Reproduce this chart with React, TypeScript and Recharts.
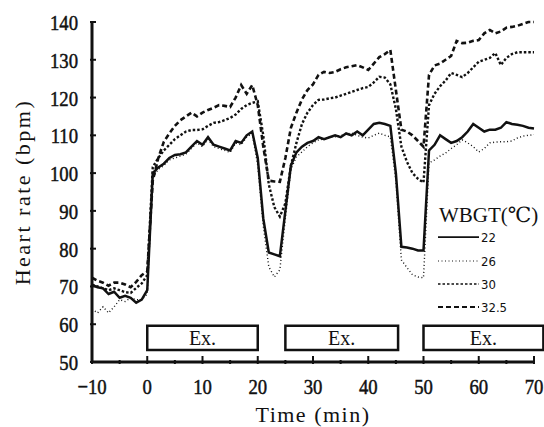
import { LineChart, Line, XAxis, YAxis, ReferenceArea } from 'recharts';

// minutes from start of pre-exercise rest
const TIME = [
  -10, -9, -8, -7, -6, -5, -4, -3, -2, -1, 0,
  1, 2, 3, 4, 5, 6, 7, 8, 9, 10,
  11, 12, 13, 14, 15, 16, 17, 18, 19, 20,
  21, 22, 23, 24, 25, 26, 27, 28, 29, 30,
  31, 32, 33, 34, 35, 36, 37, 38, 39, 40,
  41, 42, 43, 44, 45, 46, 47, 48, 49, 50,
  51, 52, 53, 54, 55, 56, 57, 58, 59, 60,
  61, 62, 63, 64, 65, 66, 67, 68, 69, 70,
];

const HR_22 = [
  70.4, 69.8, 69.5, 68, 68.6, 67, 67.5, 67, 65.7, 66.5, 69,
  100, 101.5, 102.5, 104, 104.8, 105, 105.5, 107, 108.5, 107.5,
  109.5, 107.5, 107, 106.5, 106, 108.5, 108, 110, 111, 104,
  88, 79, 78.5, 78, 90, 102, 105.5, 107, 108, 108.5,
  109.5, 109, 109.5, 110, 109.5, 110.5, 110, 111, 110, 111.5,
  113, 113.3, 113, 112.5, 100, 80.5, 80.3, 80, 79.5, 79.5,
  106, 107.5, 110, 109, 108, 108.5, 109.5, 111, 113, 112,
  111, 111.5, 111.5, 112, 113.5, 113, 112.8, 112.5, 112, 111.8,
];

const HR_26 = [
  64, 63, 64.6, 63, 64.6, 66.5, 66, 67, 66.5, 66.5, 68,
  99, 101, 102, 103.5, 104, 104.5, 105, 106.5, 108, 107,
  109, 107, 106.5, 106, 105.5, 108, 107.5, 109.5, 110.5, 102,
  86, 75.2, 72.5, 74.4, 88, 101, 104.3, 105.6, 107, 108,
  108.8, 109, 109.5, 109.6, 110, 110.3, 110.6, 110, 109.5, 109.3,
  110, 110.6, 110, 109.6, 98, 77, 75, 73.1, 72.5, 72.3,
  102.7, 103.5, 104.5, 105.3, 106.5, 107.5, 108.8, 108, 107, 105.6,
  106.5, 108, 108.2, 108.3, 108.3, 108.5, 109.3, 109.8, 110, 110.2,
];

const HR_30 = [
  70.5, 70, 69.5, 69, 69.5, 69, 68.5, 68.3, 69.6, 70.8, 73,
  101.6, 104, 106, 107.5, 109, 110, 111, 111.4, 111.4, 111.6,
  112.5, 113.3, 113.5, 114, 114.6, 115.5, 117, 118, 118.6, 119,
  110, 97, 91, 88.5, 92, 102, 108, 113, 116, 118,
  119.4, 119.5, 119.8, 120, 120.5, 121, 121.5, 122, 122.5, 122.8,
  124, 125.5, 125.3, 123.5, 117, 107, 103, 100, 98.5, 97.5,
  118, 121, 123, 124.5, 126.5, 126, 125.4, 126.5, 128, 129.5,
  130, 130.5, 131.8, 128.6, 130.5, 131.5, 132, 132, 132, 132,
];

const HR_325 = [
  72.3, 71.5, 71, 70.2, 71, 71, 70.5, 69.8, 71.2, 73, 74,
  98, 104, 108.3, 110.5, 112.5, 114, 115, 116, 115, 116,
  116.7, 117.3, 118, 117.8, 117.5, 120, 123.3, 121, 123.3, 118,
  107, 98, 97.8, 97.7, 104, 112, 116, 119.5, 122, 123.5,
  126, 126.8, 126.5, 126.8, 127.5, 128, 128.3, 128.6, 128, 127.3,
  129, 130.7, 131.5, 132.6, 122, 111.5, 111, 110, 108.5, 107,
  126, 128.5, 129, 130, 131, 135, 134.4, 134.5, 135, 135.2,
  137, 137.9, 137, 137.5, 138.5, 138.7, 139, 139.5, 140, 140,
];

const X_TICKS = [-10, -5, 0, 5, 10, 15, 20, 25, 30, 35, 40, 45, 50, 55, 60, 65, 70];
const Y_TICKS = [50, 60, 70, 80, 90, 100, 110, 120, 130, 140];

// exercise bouts [start, end] in min
const EX_START = [0, 25, 50];
const EX_END = [20, 45.4, 71.7];

const SERIES = [
  { key: 'w22', label: '22', dash: undefined, width: 2.5 },
  { key: 'w26', label: '26', dash: '1 2.5', width: 1.4 },
  { key: 'w30', label: '30', dash: '2.5 2', width: 2.4 },
  { key: 'w325', label: '32.5', dash: '5 3', width: 2.6 },
];

const data = TIME.map((t, i) => ({
  t,
  w22: HR_22[i],
  w26: HR_26[i],
  w30: HR_30[i],
  w325: HR_325[i],
}));

const SERIF = '"Liberation Serif", "DejaVu Serif", serif';
const INK = '#111';

function XTick({ x, y, payload }: any) {
  const v = payload.value as number;
  const major = v % 10 === 0;
  return (
    <g>
      <line x1={x} x2={x} y1={y} y2={y - (major ? 8 : 4)} stroke={INK} strokeWidth={2} />
      {major && (
        <text
          transform={`translate(${x},${y + 30}) scale(0.85,1)`}
          textAnchor="middle"
          fontFamily={SERIF}
          fontSize={22}
          fill={INK}
          stroke={INK}
          strokeWidth={0.5}
        >
          {v < 0 ? `\u2212${-v}` : v}
        </text>
      )}
    </g>
  );
}

function YTick({ x, y, payload }: any) {
  return (
    <g>
      <line x1={x} x2={x + 6} y1={y} y2={y} stroke={INK} strokeWidth={2} />
      <text
        transform={`translate(${x - 12},${y + 8}) scale(0.85,1)`}
        textAnchor="end"
        fontFamily={SERIF}
        fontSize={22}
        fill={INK}
        stroke={INK}
        strokeWidth={0.5}
      >
        {payload.value}
      </text>
    </g>
  );
}

function LegendBox() {
  return (
    <svg width={106} height={115} style={{ position: 'absolute', left: 436, top: 200 }}>
      <text x={3} y={22} fontFamily={SERIF} fontSize={21} fill={INK}>
        WBGT(℃)
      </text>
      {SERIES.map((s, i) => {
        const yy = [37, 61, 84, 107][i];
        return (
          <g key={s.key}>
            <line x1={2} x2={43} y1={yy} y2={yy} stroke={INK} strokeWidth={s.width * 0.7} strokeDasharray={s.dash} />
            <text x={45} y={yy + 5} fontFamily='"DejaVu Sans Condensed", "DejaVu Sans", sans-serif' fontSize={13} fill={INK}>
              {s.label}
            </text>
          </g>
        );
      })}
    </svg>
  );
}

export default function App() {
  return (
    <div style={{ position: 'absolute', left: 0, top: 0, width: 544, height: 427, background: '#fff' }}>
      <LineChart width={544} height={427} data={data} margin={{ top: 22, right: 10, bottom: 0, left: 0 }}>
        <XAxis
          type="number"
          dataKey="t"
          domain={[-10, 70]}
          ticks={X_TICKS}
          interval={0}
          height={65}
          tickSize={0}
          tickLine={false}
          axisLine={{ stroke: INK, strokeWidth: 3 }}
          tick={<XTick />}
          label={(p: any) => {
            const vb = p.viewBox;
            return (
              <text x={vb.x + vb.width / 2} y={vb.y + 60} textAnchor="middle" fontFamily={SERIF} fontSize={22} letterSpacing={1.5} fill={INK}>
                Time (min)
              </text>
            );
          }}
        />
        <YAxis
          domain={[50, 140]}
          ticks={Y_TICKS}
          interval={0}
          width={92}
          tickSize={0}
          tickLine={false}
          axisLine={{ stroke: INK, strokeWidth: 3 }}
          tick={<YTick />}
          label={(p: any) => {
            const vb = p.viewBox;
            const cy = vb.y + vb.height / 2;
            return (
              <text transform={`translate(30,${cy}) rotate(-90)`} textAnchor="middle" fontFamily={SERIF} fontSize={22} letterSpacing={2.5} fill={INK}>
                Heart rate (bpm)
              </text>
            );
          }}
        />
        {EX_START.map((x1, i) => (
          <ReferenceArea
            key={i}
            x1={x1}
            x2={EX_END[i]}
            y1={53.2}
            y2={59.6}
            ifOverflow="visible"
            fill="#fff"
            fillOpacity={1}
            stroke={INK}
            strokeWidth={2.5}
            label={{ value: 'Ex.', position: 'center', fontSize: 20, fontFamily: SERIF, fill: INK }}
          />
        ))}
        {SERIES.map((s) => (
          <Line
            key={s.key}
            type="linear"
            dataKey={s.key}
            stroke={INK}
            strokeWidth={s.width}
            strokeDasharray={s.dash}
            dot={false}
            isAnimationActive={false}
          />
        ))}
      </LineChart>
      <LegendBox />
    </div>
  );
}
